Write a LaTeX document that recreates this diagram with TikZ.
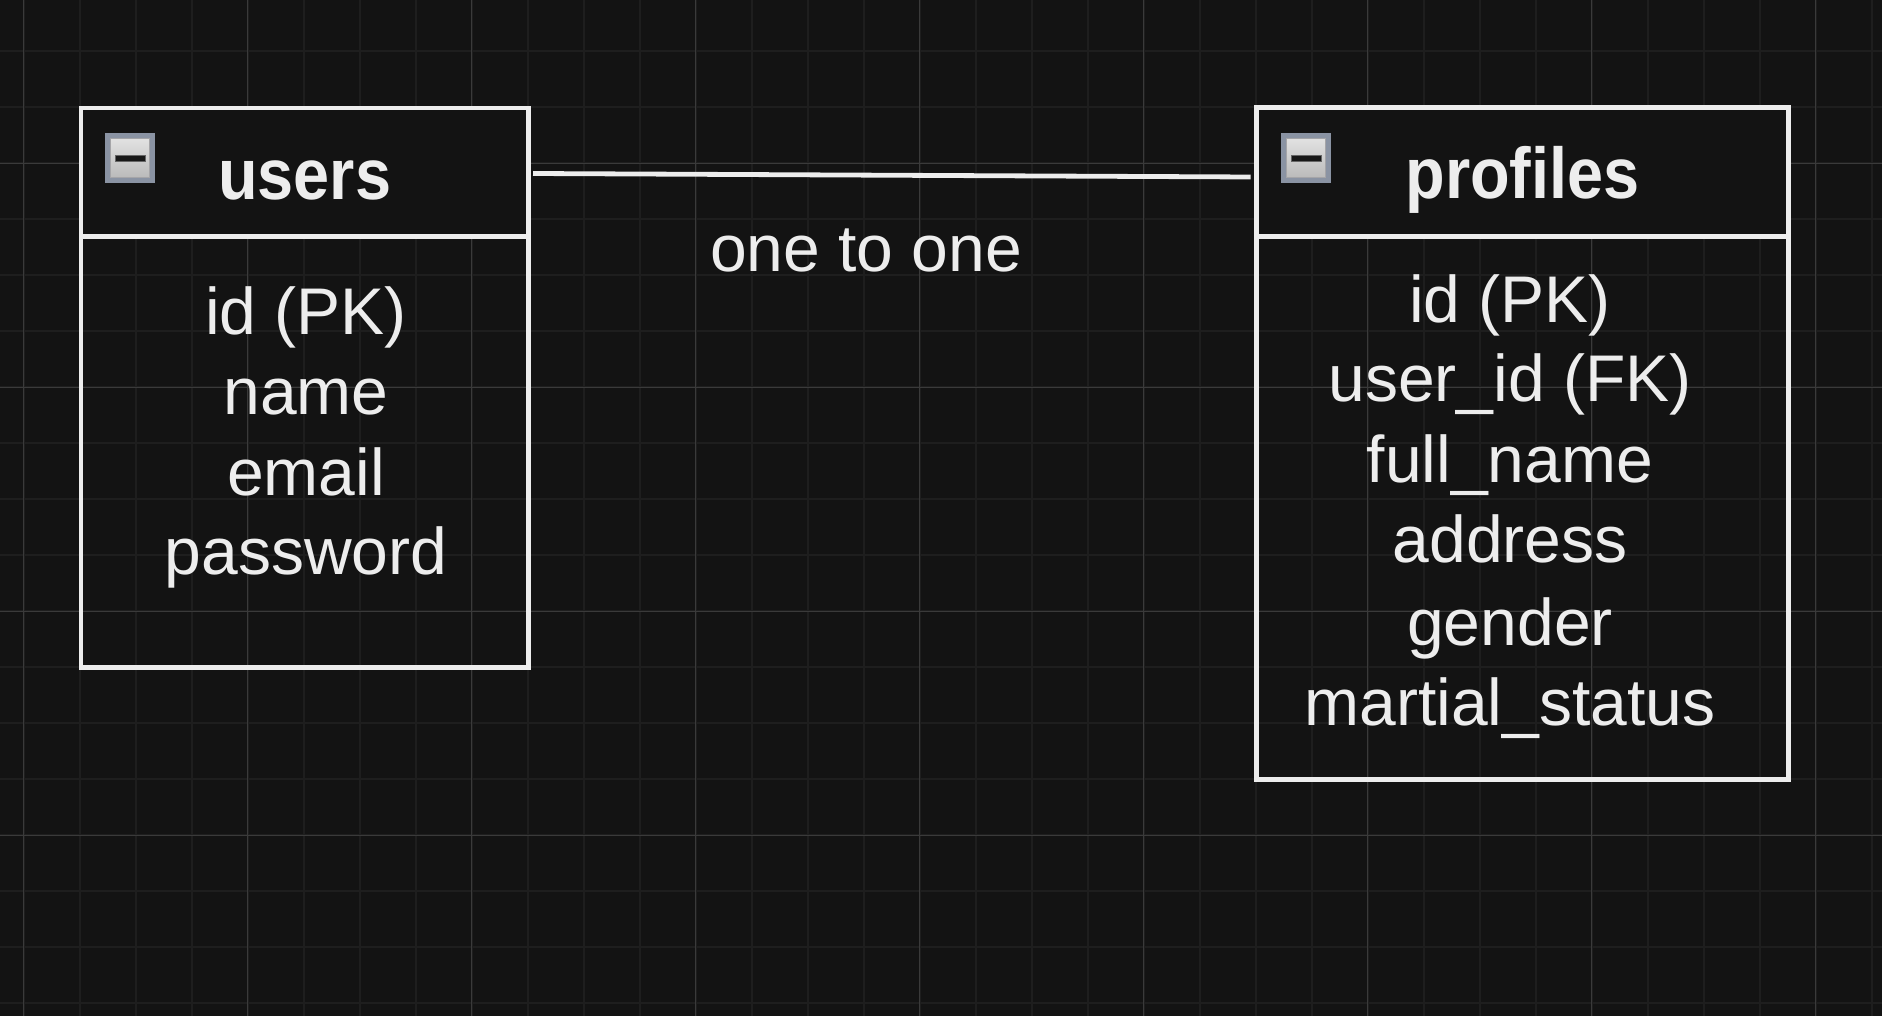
\documentclass[tikz,border=0pt]{standalone}
\usepackage{fontspec}
\setmainfont{Liberation Sans}
\newfontfamily\headfont[FakeStretch=0.9]{Liberation Sans}
\usetikzlibrary{positioning}

\definecolor{canvas}{RGB}{19,19,19}
\definecolor{gridminor}{RGB}{30,30,30}
\definecolor{gridmajor}{RGB}{58,58,58}
\definecolor{ink}{RGB}{237,237,237}
\definecolor{iconrim}{RGB}{138,147,163}
\definecolor{icontop}{RGB}{226,226,226}
\definecolor{iconbottom}{RGB}{186,186,186}
\definecolor{iconedge}{RGB}{165,165,168}
\definecolor{minusbar}{RGB}{24,24,24}

\begin{document}
\begin{tikzpicture}[x=0.5pt,y=-0.5pt,
	tablehead/.style={draw=ink,line width=2.4pt,fill=canvas,text=ink,font=\headfont\bfseries\fontsize{36}{44}\selectfont,minimum width=#1,minimum height=64.25pt,text height=26.75pt,text depth=0pt,inner sep=0pt,outer sep=0pt},
	tablebody/.style={draw=ink,line width=2.4pt,minimum width=#1,inner sep=0pt,outer sep=0pt},
	field/.style={text=ink,font=\fontsize{33}{40}\selectfont,anchor=base,inner sep=0pt},
	relation/.style={draw=ink,line width=2.4pt},
	iconbox/.style={fill=iconrim,minimum size=25pt,inner sep=0pt},
	iconface/.style={draw=iconedge,line width=0.5pt,top color=icontop,bottom color=iconbottom,minimum size=19.5pt,inner sep=0pt},
	iconminus/.style={draw=black!60,line width=0.4pt,fill=minusbar,minimum width=15pt,minimum height=3pt,inner sep=0pt},
	gridfine/.style={draw=gridminor,line width=1pt},
	gridbold/.style={draw=gridmajor,line width=0.5pt}]
			\useasboundingbox (0,0) rectangle (1882,1016);
			\fill[canvas] (0,0) rectangle (1882,1016);

			% canvas grid
			\foreach \i in {0,...,33} \draw[gridfine] ({23.7+56*\i},0) -- ++(0,1016);
			\foreach \j in {0,...,17} \draw[gridfine] (0,{51.3+56*\j}) -- ++(1882,0);
			\foreach \i in {0,...,8} \draw[gridbold] ({23.7+224*\i},0) -- ++(0,1016);
			\foreach \j in {0,...,3} \draw[gridbold] (0,{163.3+224*\j}) -- ++(1882,0);

			% tables
			\node[tablehead=223.75pt] (users) at (304.75,172.25) {users};
			\node[tablebody=223.75pt,minimum height=215.5pt,below=0pt of users] (ubody) {};
			\node[tablehead=266pt] (profiles) at (1522.5,172) {profiles};
			\node[tablebody=266pt,minimum height=271.5pt,below=0pt of profiles] (pbody) {};

			\node[iconbox] (uicon) at (130,158) {};
			\node[iconface] (uiconface) at (uicon) {};
			\node[iconminus] (uiconbar) at (uicon) {};
			\node[iconbox] (picon) at (1306,158) {};
			\node[iconface] (piconface) at (picon) {};
			\node[iconminus] (piconbar) at (picon) {};

			\node[field] (uid) at (306,334) {id (PK)};
			\node[field] (uname) at (306,414) {name};
			\node[field] (uemail) at (306,495) {email};
			\node[field] (upass) at (306,574) {password};

			\node[field] (pid) at (1510,322) {id (PK)};
			\node[field] (puser) at (1510,401) {user\_id (FK)};
			\node[field] (pfull) at (1510,482) {full\_name};
			\node[field] (paddr) at (1510,562) {address};
			\node[field] (pgender) at (1510,645) {gender};
			\node[field] (pstatus) at (1510,725) {martial\_status};

			\draw[relation] ([xshift=2.25pt,yshift=-0.625pt]users.east) -- ([xshift=-3pt,yshift=-2.5pt]profiles.west);
			\node[field] (onetoone) at (866,271.7) {one to one};
		\end{tikzpicture}
\end{document}
